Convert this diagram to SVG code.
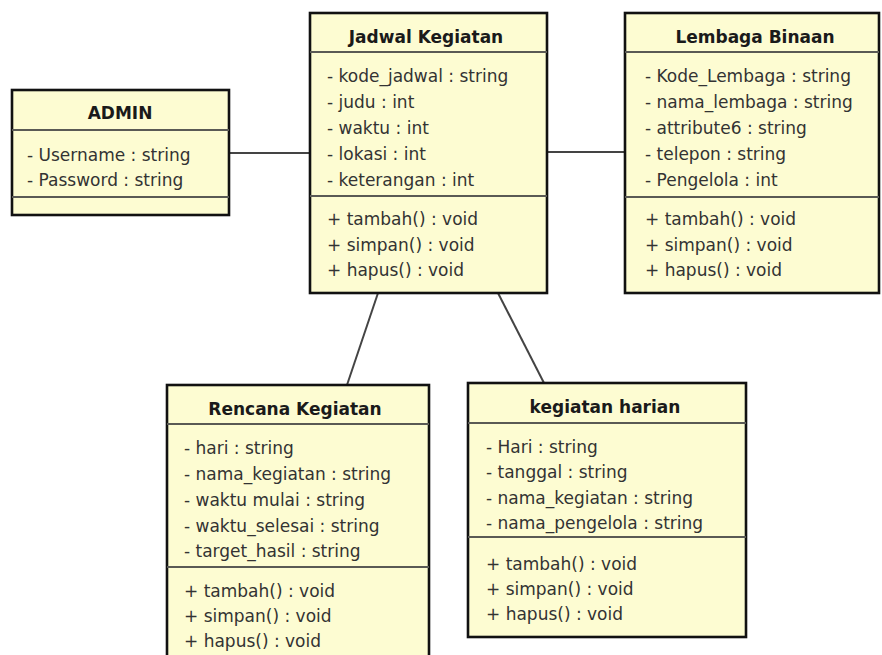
<svg xmlns="http://www.w3.org/2000/svg" width="882" height="655" viewBox="0 0 882 655">
<style>
.box{fill:#fdfcd2;stroke:#111;stroke-width:2.6}
.sep{stroke:#5a5a55;stroke-width:2}
.conn{stroke:#444;stroke-width:2;fill:none}
text{font-family:"DejaVu Sans","Liberation Sans",sans-serif;fill:#333}
.t{font-size:17px;font-weight:bold;text-anchor:middle;fill:#1a1a1a}
.a{font-size:17px}
</style>
<rect width="882" height="655" fill="#ffffff"/>
<g id="connectors">
<line class="conn" x1="229" y1="153" x2="310" y2="153"/>
<line class="conn" x1="547" y1="152" x2="625" y2="152"/>
<line class="conn" x1="378" y1="293" x2="347" y2="385"/>
<line class="conn" x1="498" y1="293" x2="544" y2="383"/>
</g>
<g id="admin">
<rect class="box" x="12" y="90" width="217" height="125"/>
<line class="sep" x1="12" y1="130" x2="229" y2="130"/>
<line class="sep" x1="12" y1="197" x2="229" y2="197"/>
<text class="t" x="120" y="119">ADMIN</text>
<text class="a" x="27" y="161">- Username : string</text>
<text class="a" x="27" y="186">- Password : string</text>
</g>
<g id="jadwal">
<rect class="box" x="310" y="13" width="237" height="280"/>
<line class="sep" x1="310" y1="52" x2="547" y2="52"/>
<line class="sep" x1="310" y1="196" x2="547" y2="196"/>
<text class="t" x="426" y="43">Jadwal Kegiatan</text>
<text class="a" x="327" y="82">- kode_jadwal : string</text>
<text class="a" x="327" y="108">- judu : int</text>
<text class="a" x="327" y="134">- waktu : int</text>
<text class="a" x="327" y="160">- lokasi : int</text>
<text class="a" x="327" y="186">- keterangan : int</text>
<text class="a" x="327" y="225">+ tambah() : void</text>
<text class="a" x="327" y="251">+ simpan() : void</text>
<text class="a" x="327" y="276">+ hapus() : void</text>
</g>
<g id="lembaga">
<rect class="box" x="625" y="13" width="254" height="280"/>
<line class="sep" x1="625" y1="52" x2="879" y2="52"/>
<line class="sep" x1="625" y1="197" x2="879" y2="197"/>
<text class="t" x="755" y="43">Lembaga Binaan</text>
<text class="a" x="645" y="82">- Kode_Lembaga : string</text>
<text class="a" x="645" y="108">- nama_lembaga : string</text>
<text class="a" x="645" y="134">- attribute6 : string</text>
<text class="a" x="645" y="160">- telepon : string</text>
<text class="a" x="645" y="186">- Pengelola : int</text>
<text class="a" x="645" y="225">+ tambah() : void</text>
<text class="a" x="645" y="251">+ simpan() : void</text>
<text class="a" x="645" y="276">+ hapus() : void</text>
</g>
<g id="rencana">
<rect class="box" x="167" y="385" width="262" height="280"/>
<line class="sep" x1="167" y1="424" x2="429" y2="424"/>
<line class="sep" x1="167" y1="567" x2="429" y2="567"/>
<text class="t" x="295" y="415">Rencana Kegiatan</text>
<text class="a" x="184" y="454">- hari : string</text>
<text class="a" x="184" y="480">- nama_kegiatan : string</text>
<text class="a" x="184" y="506">- waktu mulai : string</text>
<text class="a" x="184" y="532">- waktu_selesai : string</text>
<text class="a" x="184" y="557">- target_hasil : string</text>
<text class="a" x="184" y="597">+ tambah() : void</text>
<text class="a" x="184" y="622">+ simpan() : void</text>
<text class="a" x="184" y="647">+ hapus() : void</text>
</g>
<g id="harian">
<rect class="box" x="468" y="383" width="278" height="254"/>
<line class="sep" x1="468" y1="423" x2="746" y2="423"/>
<line class="sep" x1="468" y1="537" x2="746" y2="537"/>
<text class="t" x="605" y="413">kegiatan harian</text>
<text class="a" x="486" y="453">- Hari : string</text>
<text class="a" x="486" y="478">- tanggal : string</text>
<text class="a" x="486" y="504">- nama_kegiatan : string</text>
<text class="a" x="486" y="529">- nama_pengelola : string</text>
<text class="a" x="486" y="570">+ tambah() : void</text>
<text class="a" x="486" y="595">+ simpan() : void</text>
<text class="a" x="486" y="620">+ hapus() : void</text>
</g>
</svg>
